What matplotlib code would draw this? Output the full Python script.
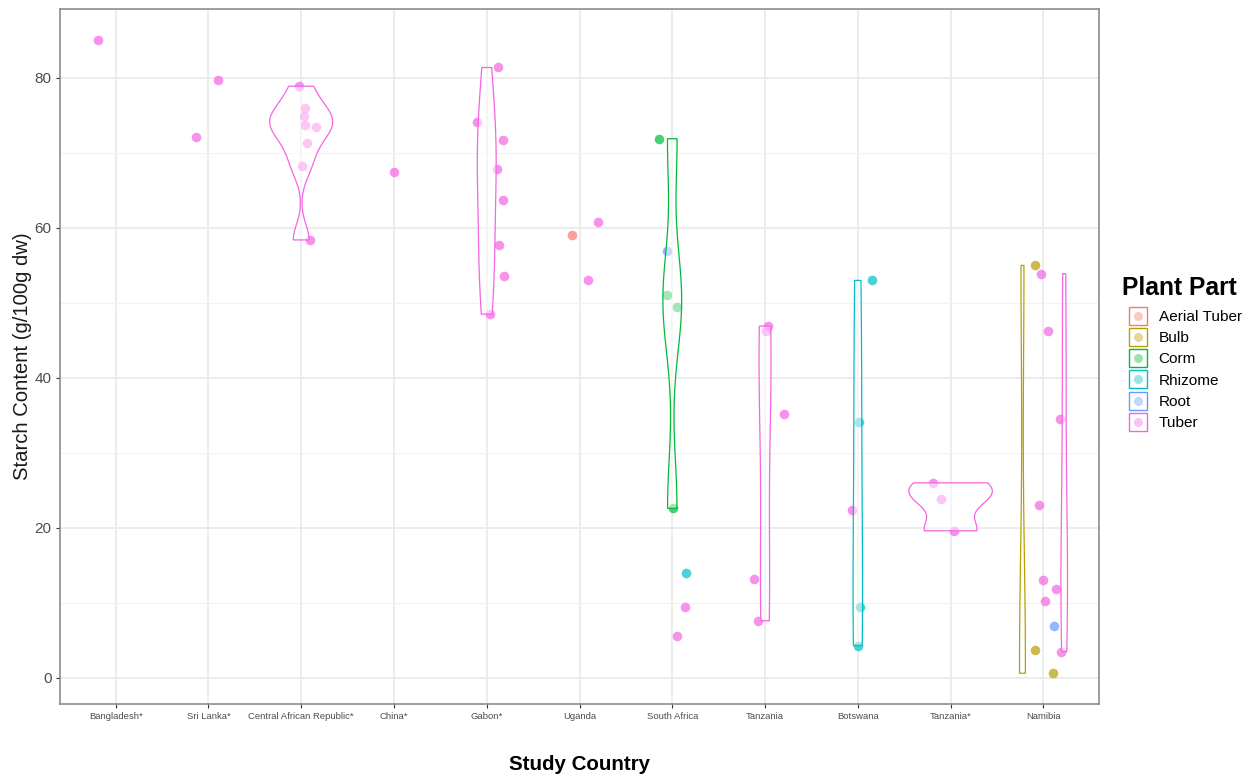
import numpy as np
import matplotlib.pyplot as plt
from matplotlib.lines import Line2D
from matplotlib.legend_handler import HandlerTuple

plt.rcParams['font.family'] = ['Liberation Sans', 'DejaVu Sans']

countries = ['Bangladesh*', 'Sri Lanka*', 'Central African Republic*', 'China*', 'Gabon*',
             'Uganda', 'South Africa', 'Tanzania', 'Botswana', 'Tanzania*', 'Namibia']
parts = ['Aerial Tuber', 'Bulb', 'Corm', 'Rhizome', 'Root', 'Tuber']
part_colors = ['#F8766D', '#B79F00', '#00BA38', '#00BFC4', '#619CFF', '#F564E3']

# one entry per sample
sample_country = (['Bangladesh*'] + ['Sri Lanka*'] * 2 + ['Central African Republic*'] * 8
                  + ['China*'] + ['Gabon*'] * 8 + ['Uganda'] * 3 + ['South Africa'] * 8
                  + ['Tanzania'] * 5 + ['Botswana'] * 5 + ['Tanzania*'] * 3 + ['Namibia'] * 12)
sample_part = (['Tuber'] + ['Tuber'] * 2 + ['Tuber'] * 8 + ['Tuber'] + ['Tuber'] * 8
               + ['Aerial Tuber', 'Tuber', 'Tuber']
               + ['Corm', 'Root', 'Corm', 'Corm', 'Corm', 'Rhizome', 'Tuber', 'Tuber']
               + ['Tuber'] * 5
               + ['Rhizome', 'Rhizome', 'Tuber', 'Rhizome', 'Rhizome']
               + ['Tuber'] * 3
               + ['Bulb', 'Bulb', 'Bulb'] + ['Tuber'] * 8 + ['Root'])
starch = ([85.1] + [79.7, 72.1] + [78.9, 76.0, 74.9, 73.7, 73.5, 71.3, 68.3, 58.4]
          + [67.4] + [81.4, 74.1, 71.7, 67.9, 63.7, 57.7, 53.6, 48.5]
          + [59.0, 60.8, 53.1]
          + [71.9, 56.9, 51.1, 49.5, 22.6, 14.0, 9.5, 5.6]
          + [46.9, 46.3, 35.2, 13.2, 7.6]
          + [53.0, 34.1, 22.4, 9.5, 4.3]
          + [26.0, 23.9, 19.6]
          + [55.0, 3.7, 0.6] + [53.9, 46.2, 34.5, 23.0, 13.0, 11.8, 10.2, 3.5] + [6.9])
# horizontal jitter of each point (category units)
jitter = ([-0.19] + [0.10, -0.13] + [-0.02, 0.04, 0.03, 0.04, 0.16, 0.06, 0.01, 0.10]
          + [0.0] + [0.12, -0.11, 0.18, 0.11, 0.17, 0.13, 0.19, 0.04]
          + [-0.08, 0.20, 0.09]
          + [-0.14, -0.06, -0.06, 0.05, 0.01, 0.15, 0.14, 0.05]
          + [0.03, 0.01, 0.20, -0.12, -0.08]
          + [0.15, 0.01, -0.06, 0.02, 0.0]
          + [-0.19, -0.10, 0.04]
          + [-0.09, -0.09, 0.10] + [-0.02, 0.05, 0.18, -0.05, 0.0, 0.14, 0.02, 0.19] + [0.12])

# (country, part, dodge side)
violin_groups = [('Central African Republic*', 'Tuber', 0), ('Gabon*', 'Tuber', 0),
                 ('South Africa', 'Corm', 0), ('Tanzania', 'Tuber', 0),
                 ('Botswana', 'Rhizome', 0), ('Tanzania*', 'Tuber', 0),
                 ('Namibia', 'Bulb', -1), ('Namibia', 'Tuber', 1)]

sample_country = np.array(sample_country)
sample_part = np.array(sample_part)
starch = np.array(starch)
jitter = np.array(jitter)
xpos = {c: i for i, c in enumerate(countries)}
pcol = dict(zip(parts, part_colors))


def nrd0(v):
    sd = np.std(v, ddof=1)
    q75, q25 = np.percentile(v, [75, 25])
    lo = min(sd, (q75 - q25) / 1.34)
    if lo == 0:
        lo = sd
    return 0.9 * lo * len(v) ** -0.2


def density(v):
    grid = np.linspace(v.min(), v.max(), 512)
    bw = nrd0(v)
    d = np.exp(-0.5 * ((grid[:, None] - v[None, :]) / bw) ** 2).sum(axis=1)
    d /= len(v) * bw * np.sqrt(2 * np.pi)
    return grid, d


dens = []
for c, p, side in violin_groups:
    v = starch[(sample_country == c) & (sample_part == p)]
    dens.append(density(v))
dmax = max(d.max() for g, d in dens)

fig = plt.figure(figsize=(12.48, 7.76), dpi=100)
ax = fig.add_axes([60 / 1248, 1 - 704 / 776, 1039 / 1248, 695 / 776])

# points
for p in parts:
    m = sample_part == p
    xs = np.array([xpos[c] for c in sample_country[m]]) + jitter[m]
    ax.scatter(xs, starch[m], s=48, color=pcol[p], alpha=0.7, linewidths=0, zorder=2)

# violins (white, half transparent, over the points)
for (c, p, side), (grid, d) in zip(violin_groups, dens):
    share = 0.5 if side else 1.0
    cx = xpos[c] + side * 0.225
    hw = 0.45 * share * d / dmax
    ax.fill(np.concatenate([cx - hw, (cx + hw)[::-1]]), np.concatenate([grid, grid[::-1]]),
            facecolor=(1, 1, 1, 0.5), edgecolor=pcol[p], lw=0.9, zorder=3)

ax.set_xlim(-0.6, len(countries) - 0.4)
ax.set_ylim(-3.5, 89.2)
ax.set_xticks(range(len(countries)))
ax.set_xticklabels(countries, fontsize=6.8, color='#4D4D4D')
ax.set_yticks([0, 20, 40, 60, 80])
ax.set_yticks([10, 30, 50, 70], minor=True)
ax.tick_params(axis='y', labelsize=11, labelcolor='#4D4D4D')
ax.tick_params(which='major', length=3, width=0.8, color='#333333', pad=3)
ax.tick_params(which='minor', length=0)
ax.grid(which='major', color='#EBEBEB', lw=1.3, zorder=0)
ax.grid(which='minor', axis='y', color='#F2F2F2', lw=0.8, zorder=0)
ax.set_axisbelow(True)
for s in ax.spines.values():
    s.set_color('#8C8C8C')
    s.set_linewidth(1.2)

ax.set_ylabel('Starch Content (g/100g dw)', fontsize=14.6, color='#1A1A1A', labelpad=2)
ax.set_xlabel('Study Country', fontsize=14.8, fontweight='bold', labelpad=24)

# legend: title as plain text, keys are a box with a faint dot inside
fig.text(1122 / 1248, 1 - 288 / 776, 'Plant Part', fontsize=17.7, fontweight='bold',
         ha='left', va='center')
handles = [(Line2D([], [], ls='', marker='s', markersize=12.5, markerfacecolor='white',
                   markeredgecolor=col, markeredgewidth=1),
            Line2D([], [], ls='', marker='o', markersize=6.5, color=col, alpha=0.4,
                   markeredgewidth=0))
           for col in part_colors]
leg = fig.legend(handles, parts, loc='upper left',
                 bbox_to_anchor=(1130 / 1248, 1 - 310 / 776), frameon=False,
                 handler_map={tuple: HandlerTuple(ndivide=1)},
                 fontsize=11.1, handlelength=1.1, handletextpad=0.75, labelspacing=0.47,
                 borderpad=0, borderaxespad=0)

fig.savefig('out.png', dpi=100)
